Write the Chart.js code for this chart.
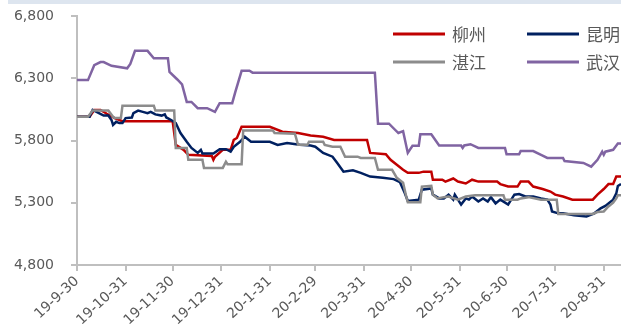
<!DOCTYPE html>
<html>
<head>
<meta charset="utf-8">
<script src="https://cdn.jsdelivr.net/npm/chart.js@4.4.0/dist/chart.umd.min.js"></script>
<style>
  html, body { margin: 0; padding: 0; background: #fff; }
  #wrap { position: relative; width: 621px; height: 329px; overflow: hidden; }
  #c { position: absolute; left: 0; top: 0; }
  #band { position: absolute; left: 8px; top: 0; width: 613px; height: 4px; background: #dde5ef; }
</style>
</head>
<body>
<div id="wrap">
  <canvas id="c" width="621" height="329"></canvas>
  <div id="band"></div>
</div>
<script>
// Month-end tick labels on the date axis (yy-m-d)
const tickLabels = ['19-9-30', '19-10-31', '19-11-30', '19-12-31', '20-1-31', '20-2-29',
                    '20-3-31', '20-4-30', '20-5-31', '20-6-30', '20-7-31', '20-8-31'];

const seriesNames = ['柳州', '昆明', '湛江', '武汉'];
const seriesColors = ['#C00000', '#002060', '#8C8C8C', '#8064A2'];

// Price series, [date, price] at each change of level
const liuzhou = [
  ['19-9-30', 5990], ['19-10-8', 5990], ['19-10-11', 6045], ['19-10-15', 6045], ['19-10-19', 6015],
  ['19-10-24', 5980], ['19-10-29', 5955], ['19-11-30', 5955], ['19-12-2', 5765], ['19-12-7', 5725],
  ['19-12-10', 5685], ['19-12-25', 5675], ['19-12-26', 5645], ['19-12-27', 5670], ['20-1-1', 5725],
  ['20-1-6', 5725], ['20-1-8', 5805], ['20-1-10', 5820], ['20-1-13', 5910], ['20-1-31', 5910],
  ['20-2-8', 5870], ['20-2-18', 5860], ['20-2-26', 5840], ['20-3-5', 5830], ['20-3-12', 5805],
  ['20-4-2', 5805], ['20-4-4', 5700], ['20-4-14', 5690], ['20-4-17', 5645], ['20-4-21', 5605],
  ['20-4-25', 5565], ['20-4-28', 5540], ['20-5-5', 5540], ['20-5-8', 5550], ['20-5-13', 5550],
  ['20-5-14', 5485], ['20-5-20', 5485], ['20-5-22', 5470], ['20-5-27', 5495], ['20-5-30', 5470],
  ['20-6-4', 5455], ['20-6-8', 5485], ['20-6-12', 5470], ['20-6-24', 5470], ['20-6-26', 5450],
  ['20-7-1', 5430], ['20-7-7', 5430], ['20-7-9', 5470], ['20-7-14', 5470], ['20-7-17', 5430],
  ['20-7-23', 5410], ['20-7-28', 5390], ['20-7-31', 5365], ['20-8-5', 5350], ['20-8-11', 5325],
  ['20-8-24', 5325], ['20-8-27', 5365], ['20-8-31', 5410], ['20-9-3', 5450], ['20-9-6', 5450],
  ['20-9-8', 5510], ['20-9-11', 5510]
];

const kunming = [
  ['19-9-30', 5990], ['19-10-8', 5990], ['19-10-10', 6045], ['19-10-14', 6020], ['19-10-17', 6000],
  ['19-10-20', 6000], ['19-10-22', 5965], ['19-10-23', 5925], ['19-10-25', 5950], ['19-10-27', 5940],
  ['19-10-29', 5940], ['19-10-31', 5980], ['19-11-4', 5985], ['19-11-5', 6020], ['19-11-8', 6040],
  ['19-11-11', 6030], ['19-11-14', 6020], ['19-11-16', 6030], ['19-11-19', 6010], ['19-11-23', 6000],
  ['19-11-25', 6010], ['19-11-26', 5985], ['19-11-29', 5965], ['19-12-2', 5940], ['19-12-5', 5860],
  ['19-12-9', 5790], ['19-12-12', 5740], ['19-12-16', 5700], ['19-12-18', 5725], ['19-12-19', 5695],
  ['19-12-26', 5695], ['19-12-30', 5730], ['20-1-3', 5730], ['20-1-6', 5710], ['20-1-8', 5750],
  ['20-1-12', 5790], ['20-1-15', 5830], ['20-1-19', 5790], ['20-1-31', 5790], ['20-2-5', 5765],
  ['20-2-11', 5780], ['20-2-19', 5765], ['20-2-26', 5760], ['20-2-29', 5750], ['20-3-5', 5700],
  ['20-3-11', 5670], ['20-3-14', 5620], ['20-3-18', 5550], ['20-3-24', 5560], ['20-3-29', 5540],
  ['20-4-4', 5510], ['20-4-12', 5500], ['20-4-19', 5490], ['20-4-23', 5465], ['20-4-26', 5380],
  ['20-4-28', 5315], ['20-5-5', 5325], ['20-5-7', 5405], ['20-5-13', 5415], ['20-5-14', 5365],
  ['20-5-18', 5335], ['20-5-21', 5335], ['20-5-24', 5365], ['20-5-27', 5325], ['20-5-28', 5365],
  ['20-6-1', 5285], ['20-6-4', 5335], ['20-6-6', 5325], ['20-6-8', 5350], ['20-6-12', 5310],
  ['20-6-15', 5335], ['20-6-18', 5310], ['20-6-20', 5345], ['20-6-23', 5295], ['20-6-26', 5325],
  ['20-7-1', 5285], ['20-7-5', 5365], ['20-7-8', 5370], ['20-7-12', 5350], ['20-7-17', 5350],
  ['20-7-22', 5335], ['20-7-26', 5325], ['20-7-28', 5285], ['20-7-29', 5230], ['20-8-2', 5215],
  ['20-8-5', 5215], ['20-8-12', 5200], ['20-8-20', 5190], ['20-8-25', 5215], ['20-8-29', 5255],
  ['20-9-1', 5275], ['20-9-6', 5325], ['20-9-8', 5375], ['20-9-9', 5435], ['20-9-11', 5450]
];

const zhanjiang = [
  ['19-9-30', 5990], ['19-10-7', 5990], ['19-10-10', 6040], ['19-10-20', 6040], ['19-10-23', 5990],
  ['19-10-24', 5980], ['19-10-28', 5980], ['19-10-29', 6080], ['19-11-18', 6080], ['19-11-19', 6040],
  ['19-12-1', 6040], ['19-12-2', 5740], ['19-12-9', 5740], ['19-12-10', 5645], ['19-12-19', 5645],
  ['19-12-20', 5580], ['20-1-1', 5580], ['20-1-3', 5630], ['20-1-4', 5610], ['20-1-13', 5610],
  ['20-1-14', 5880], ['20-2-2', 5880], ['20-2-3', 5860], ['20-2-16', 5855], ['20-2-18', 5765],
  ['20-2-24', 5765], ['20-2-25', 5790], ['20-3-5', 5790], ['20-3-6', 5765], ['20-3-11', 5750],
  ['20-3-16', 5750], ['20-3-19', 5670], ['20-3-27', 5670], ['20-3-29', 5660], ['20-4-7', 5660],
  ['20-4-9', 5565], ['20-4-18', 5565], ['20-4-21', 5500], ['20-4-25', 5460], ['20-4-27', 5350],
  ['20-4-28', 5305], ['20-5-6', 5305], ['20-5-7', 5430], ['20-5-13', 5435], ['20-5-14', 5365],
  ['20-5-17', 5335], ['20-5-21', 5345], ['20-5-24', 5350], ['20-5-30', 5325], ['20-6-4', 5350],
  ['20-6-10', 5360], ['20-6-28', 5360], ['20-6-29', 5325], ['20-7-7', 5325], ['20-7-9', 5335],
  ['20-7-14', 5345], ['20-7-22', 5325], ['20-8-1', 5325], ['20-8-2', 5210], ['20-8-24', 5210],
  ['20-8-27', 5225], ['20-8-31', 5230], ['20-9-3', 5270], ['20-9-6', 5300], ['20-9-8', 5335],
  ['20-9-9', 5360], ['20-9-11', 5360]
];

const wuhan = [
  ['19-9-30', 6285], ['19-10-7', 6285], ['19-10-11', 6405], ['19-10-15', 6430], ['19-10-17', 6430],
  ['19-10-22', 6400], ['19-11-1', 6380], ['19-11-3', 6415], ['19-11-6', 6520], ['19-11-14', 6520],
  ['19-11-18', 6460], ['19-11-27', 6460], ['19-11-28', 6350], ['19-12-3', 6290], ['19-12-6', 6250],
  ['19-12-9', 6110], ['19-12-12', 6110], ['19-12-16', 6060], ['19-12-22', 6060], ['19-12-27', 6030],
  ['19-12-30', 6100], ['20-1-7', 6100], ['20-1-9', 6190], ['20-1-13', 6360], ['20-1-18', 6360],
  ['20-1-20', 6345], ['20-4-7', 6345], ['20-4-9', 5935], ['20-4-16', 5935], ['20-4-22', 5860],
  ['20-4-25', 5875], ['20-4-28', 5700], ['20-5-1', 5757], ['20-5-5', 5757], ['20-5-6', 5850],
  ['20-5-13', 5850], ['20-5-18', 5760], ['20-6-1', 5760], ['20-6-2', 5740], ['20-6-3', 5760],
  ['20-6-7', 5770], ['20-6-12', 5740], ['20-6-29', 5740], ['20-6-30', 5690], ['20-7-8', 5690],
  ['20-7-9', 5715], ['20-7-17', 5715], ['20-7-22', 5685], ['20-7-26', 5660], ['20-8-5', 5660],
  ['20-8-6', 5635], ['20-8-18', 5620], ['20-8-23', 5590], ['20-8-27', 5645], ['20-8-30', 5710],
  ['20-8-31', 5685], ['20-9-1', 5710], ['20-9-6', 5725], ['20-9-9', 5775], ['20-9-11', 5775]
];

const yTicks = { min: 4800, max: 6800, step: 500 };

// ---- helpers ----
const START = Date.UTC(2019, 8, 30);
function dayOf(s) {
  const [y, m, d] = s.split('-').map(Number);
  return Math.round((Date.UTC(2000 + y, m - 1, d) - START) / 86400000);
}
const allSeries = [liuzhou, kunming, zhanjiang, wuhan];
const lastDay = Math.max(...allSeries.map(s => dayOf(s[s.length - 1][0])));
const tickDays = tickLabels.map(dayOf);

const datasets = allSeries.map((s, i) => ({
  label: seriesNames[i],
  data: s.map(([d, v]) => ({ x: dayOf(d), y: v })),
  borderColor: seriesColors[i],
  backgroundColor: seriesColors[i],
  borderWidth: 2.5,
  pointRadius: 0,
  tension: 0,
  order: allSeries.length - i   // later series drawn on top
}));

const AXIS_GRAY = '#BFBFBF';
const TEXT_GRAY = '#595959';

// Two-by-two legend in the upper right of the plot
const cornerLegend = {
  id: 'cornerLegend',
  afterDraw(chart) {
    const ctx = chart.ctx;
    const colX = [393, 527];
    const rowY = [34, 62];
    const lineLen = 52;
    ctx.save();
    ctx.font = '17px "Noto Sans CJK SC"';
    ctx.textBaseline = 'middle';
    ctx.textAlign = 'left';
    chart.data.datasets.forEach((ds, i) => {
      const x = colX[i % 2], y = rowY[Math.floor(i / 2)];
      ctx.strokeStyle = ds.borderColor;
      ctx.lineWidth = 3;
      ctx.beginPath();
      ctx.moveTo(x, y);
      ctx.lineTo(x + lineLen, y);
      ctx.stroke();
      ctx.fillStyle = TEXT_GRAY;
      ctx.fillText(ds.label, x + lineLen + 7, y + 1);
    });
    ctx.restore();
  }
};

new Chart(document.getElementById('c'), {
  type: 'line',
  data: { datasets },
  options: {
    responsive: false,
    animation: false,
    devicePixelRatio: 1,
    layout: { padding: { top: 16, right: 0, left: 0, bottom: 0 } },
    plugins: { legend: { display: false }, tooltip: { enabled: false } },
    scales: {
      x: {
        type: 'linear',
        min: 0,
        max: lastDay,
        afterBuildTicks: (scale) => { scale.ticks = tickDays.map(v => ({ value: v })); },
        afterFit: (scale) => { scale.height = 64; scale.paddingLeft = 0; scale.paddingRight = 0; },
        ticks: {
          autoSkip: false,
          minRotation: 43,
          maxRotation: 43,
          padding: 2,
          color: TEXT_GRAY,
          font: { family: 'DejaVu Sans', size: 14 },
          callback: (v) => { const k = tickDays.indexOf(v); return k >= 0 ? tickLabels[k] : ''; }
        },
        grid: { drawOnChartArea: false, drawTicks: true, tickLength: 6, color: AXIS_GRAY, lineWidth: 2 },
        border: { display: true, color: AXIS_GRAY, width: 2 }
      },
      y: {
        min: yTicks.min,
        max: yTicks.max,
        afterFit: (scale) => { scale.width = 77; scale.paddingTop = 0; scale.paddingBottom = 0; },
        ticks: {
          stepSize: yTicks.step,
          padding: 17,
          color: TEXT_GRAY,
          font: { family: 'DejaVu Sans', size: 14 },
          callback: (v) => v.toLocaleString('en-US')
        },
        grid: { drawOnChartArea: false, drawTicks: true, tickLength: 6, color: AXIS_GRAY, lineWidth: 2 },
        border: { display: true, color: AXIS_GRAY, width: 2 }
      }
    }
  },
  plugins: [cornerLegend]
});
</script>
</body>
</html>
